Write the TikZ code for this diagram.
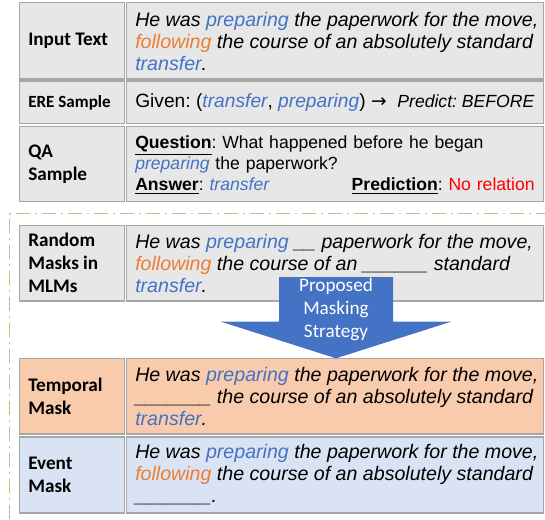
\documentclass[tikz,border=0pt]{standalone}
\usepackage{fontspec}
\setmainfont{Liberation Sans}
\newfontfamily\calibri{Carlito}
\newfontfamily\dejavu{DejaVu Sans}
\frenchspacing
\definecolor{cellgray}{HTML}{E7E7E7}
\definecolor{cellborder}{HTML}{A6A6A6}
\definecolor{peach}{HTML}{F8CBAD}
\definecolor{paleblue}{HTML}{DAE3F3}
\definecolor{evblue}{HTML}{4472C4}
\definecolor{tporange}{HTML}{ED7D31}
\definecolor{dashgreen}{HTML}{A2CF85}
\definecolor{arrowblue}{HTML}{4472C4}
\newcommand{\ev}[1]{{\color{evblue}#1}}
\newcommand{\tw}[1]{{\color{tporange}#1}}
\begin{document}
\begin{tikzpicture}[x=0.75pt,y=-0.75pt,
  cell/.style={draw=cellborder, line width=1.1pt, fill=cellgray},
  lab/.style={anchor=west, inner sep=0pt, align=left, font=\calibri\bfseries\fontsize{14.4}{17.25}\selectfont},
  txt/.style={anchor=west, inner sep=0pt, align=left, font=\frenchspacing\fontsize{14.7}{16.5}\selectfont\itshape},
  greenline/.style={draw=dashgreen, line width=1.4pt, dash pattern=on 10.5pt off 3.75pt on 1.5pt off 3.75pt}]
\useasboundingbox (0,0) rectangle (545,519);
% top table
\path[cell] (19.5,2.5) rectangle (124.5,79);
\path[cell] (126.5,2.5) rectangle (543.5,79);
\path[cell] (19.5,81) rectangle (124.5,123.5);
\path[cell] (126.5,81) rectangle (543.5,123.5);
\path[cell] (19.5,126.5) rectangle (124.5,201.5);
\path[cell] (126.5,126.5) rectangle (543.5,201.5);
\node[lab] (l1) at (28,40.75) {Input Text};
\node[txt] (t1) at (135,41.5) {He was \ev{preparing} the paperwork for the move,\\\tw{following} the course of an absolutely standard\\\ev{transfer}.};
\node[lab, font=\calibri\bfseries\fontsize{12.8}{15}\selectfont] (l2) at (28,102.5) {ERE Sample};
\node[txt, font=\frenchspacing\fontsize{14.4}{16.5}\selectfont] (t2) at (135,102.5) {Given: (\textit{\ev{transfer}}, \textit{\ev{preparing}}) {\dejavu\fontsize{14}{15}\selectfont →}\ \ {\itshape\fontsize{13.2}{15}\selectfont Predict: BEFORE}};
\node[lab] (l3) at (28,164) {QA\\Sample};
\node[txt, font=\frenchspacing\fontsize{13.2}{15.75}\selectfont, text width=299.5pt] (t3) at (135,165) {\textbf{\underline{Question}}: What happened before he began\\\textit{\ev{preparing}} the paperwork?\\\textbf{\underline{Answer}}: \textit{\ev{transfer}}\hfill\textbf{\underline{Prediction}}: {\color{red}No relation}};
% green dashed frame
\coordinate (g0) at (9.5,519);
\coordinate (g1) at (9.5,213.5);
\coordinate (g2) at (545,213.5);
\draw[greenline] (g0) -- (g1) -- (g2);
% random mask row
\path[cell] (19.5,225.5) rectangle (124.5,301);
\path[cell] (126.5,225.5) rectangle (543.5,301);
\node[lab] (l4) at (28,263.25) {Random\\Masks in\\MLMs};
\node[txt] (t4) at (135,263.5) {He was \ev{preparing} \_\_ paperwork for the move,\\\tw{following} the course of an \_\_\_\_\_\_ standard\\\ev{transfer}.};
% temporal row
\path[cell, fill=peach] (19.5,358.5) rectangle (124.5,434);
\path[cell, fill=peach] (126.5,358.5) rectangle (543.5,434);
\node[lab] (l5) at (28,396.25) {Temporal\\Mask};
\node[txt] (t5) at (135,396.5) {He was \ev{preparing} the paperwork for the move,\\\_\_\_\_\_\_\_ the course of an absolutely standard\\\ev{transfer}.};
% event row
\path[cell, fill=paleblue] (19.5,437) rectangle (124.5,513);
\path[cell, fill=paleblue] (126.5,437) rectangle (543.5,513);
\node[lab] (l6) at (28,475) {Event\\Mask};
\node[txt] (t6) at (135,475) {He was \ev{preparing} the paperwork for the move,\\\tw{following} the course of an absolutely standard\\\_\_\_\_\_\_\_.};
% arrow
\fill[arrowblue] (279,277) -- (393,277) -- (393,321.7) -- (451,321.7) -- (336,358.3) -- (221,321.7) -- (279,321.7) -- cycle;
\node[inner sep=0pt, align=center, text=white, font=\calibri\fontsize{14.4}{17.25}\selectfont] (ar) at (336,309) {Proposed\\Masking\\Strategy};
\end{tikzpicture}
\end{document}
